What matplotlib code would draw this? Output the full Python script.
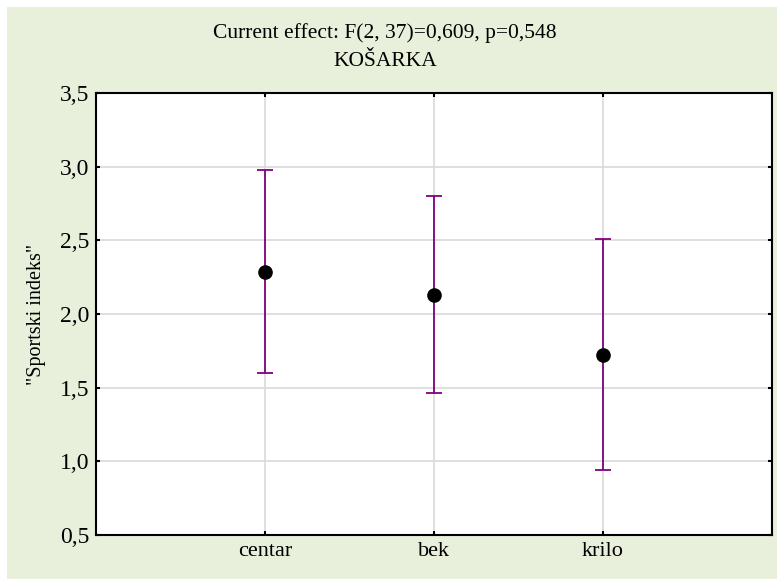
import matplotlib
matplotlib.use('Agg')
import matplotlib.pyplot as plt
from matplotlib.patches import Rectangle

# Data
groups = ['centar', 'bek', 'krilo']
means = [2.288, 2.128, 1.723]
lower = [1.598, 1.462, 0.944]
upper = [2.978, 2.804, 2.509]

title1 = 'Current effect: F(2, 37)=0,609, p=0,548'
title2 = 'KOŠARKA'
ylabel = '"Sportski indeks"'
yticks = [0.5, 1.0, 1.5, 2.0, 2.5, 3.0, 3.5]

plt.rcParams['font.family'] = ['Liberation Serif', 'DejaVu Serif']

W, H = 777, 579
fig = plt.figure(figsize=(W/100, H/100), dpi=100)
fig.patch.set_facecolor('white')
# light green panel behind everything
fig.patches.append(Rectangle((7/W, 0), 1-7/W, 1-7/H, transform=fig.transFigure,
                             facecolor='#E8EFDB', edgecolor='none', zorder=-5))

ax = fig.add_axes([96/W, 1-535/H, (772-96)/W, (535-93)/H])
ax.set_zorder(2)
ax.set_facecolor('white')

x = list(range(1, len(groups)+1))
yerr = [[m-l for m, l in zip(means, lower)], [u-m for m, u in zip(means, upper)]]
ax.errorbar(x, means, yerr=yerr, fmt='none', ecolor='#800080', elinewidth=1.3,
            capsize=6, capthick=1.3, zorder=3)
ax.plot(x, means, 'o', color='black', markersize=9.5, zorder=4)

ax.set_xlim(0, 4)
ax.set_ylim(0.5, 3.5)
ax.set_xticks(x)
ax.set_xticklabels(groups, fontsize=16)
ax.set_yticks(yticks)
ax.set_yticklabels([f'{v:.1f}'.replace('.', ',') for v in yticks], fontsize=17)
ax.grid(True, color='#D9D9D9', lw=1.2, zorder=0)
ax.set_axisbelow(True)
ax.tick_params(direction='in', length=3, width=1.5, top=True, right=True, pad=5)
for s in ax.spines.values():
    s.set_linewidth(1.5)
ax.set_ylabel(ylabel, fontsize=14.5, labelpad=10)

fig.text(385/W, 1-33/H, title1, ha='center', va='center', fontsize=15.5)
fig.text(385/W, 1-62/H, title2, ha='center', va='center', fontsize=15.5)

fig.savefig('out.png', dpi=100)
